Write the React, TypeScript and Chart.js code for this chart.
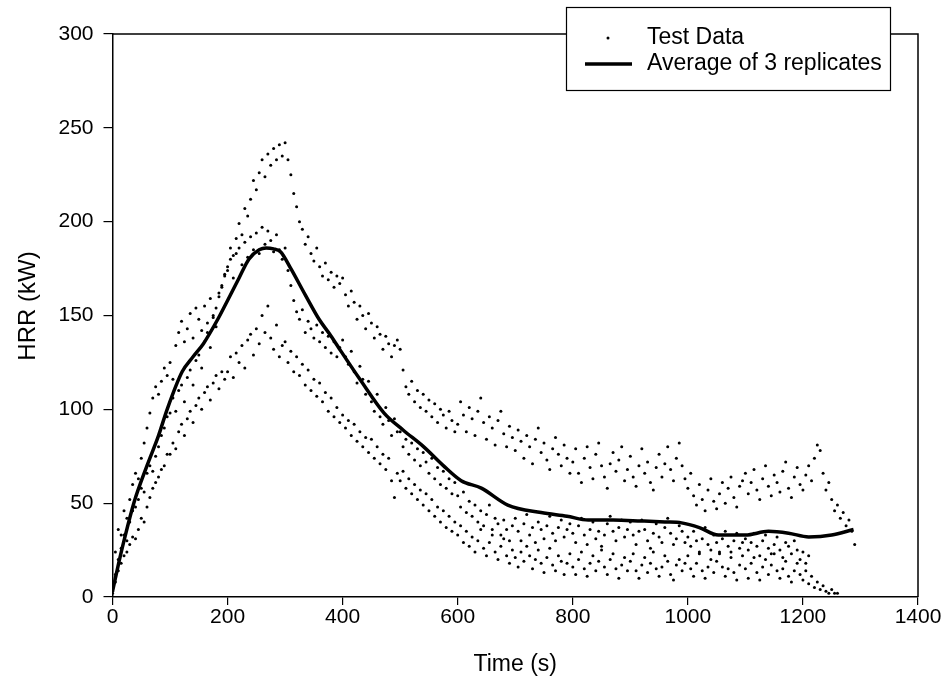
import React, { useEffect, useRef } from "react";
import { Chart, registerables } from "chart.js";

Chart.register(...registerables);

// ---- data ----
const SAMPLE_INTERVAL_S = 5; // seconds between recorded HRR samples

// Replicate 1 (t = 0 .. 1290 s)
const REP_A: number[] = [
  4, 24, 36, 33, 46, 42, 52, 60, 66, 63, 74, 82, 90, 98, 106, 112, 108, 115, 122, 118,
  125, 116, 134, 141, 147, 136, 143, 151, 138, 154, 148, 142, 155, 146, 159, 150, 144, 160, 166, 172,
  176, 186, 182, 191, 199, 193, 207, 203, 212, 222, 217, 226, 233, 224, 236, 230, 239, 233, 241, 235,
  242, 233, 225, 215, 208, 200, 196, 188, 192, 183, 179, 186, 176, 171, 178, 169, 173, 165, 171, 167,
  170, 161, 155, 163, 157, 148, 155, 150, 143, 151, 146, 138, 144, 140, 132, 139, 135, 128, 134, 137,
  132, 121, 112, 108, 115, 104, 110, 101, 108, 99, 105, 96, 103, 93, 100, 97, 90, 99, 94, 88,
  92, 104, 97, 88, 101, 95, 86, 99, 106, 93, 84, 96, 90, 81, 94, 99, 87, 80, 91, 85,
  78, 89, 83, 74, 86, 80, 71, 84, 90, 77, 82, 73, 68, 79, 85, 76, 70, 81, 74, 66,
  72, 79, 66, 61, 74, 80, 69, 63, 76, 82, 70, 64, 58, 71, 77, 67, 73, 80, 62, 68,
  75, 64, 59, 70, 79, 66, 72, 61, 57, 69, 76, 64, 71, 80, 68, 62, 74, 82, 70, 63,
  58, 66, 54, 49, 60, 52, 46, 57, 63, 51, 47, 55, 61, 50, 58, 64, 53, 48, 59, 62,
  66, 55, 61, 68, 57, 52, 63, 70, 59, 54, 65, 61, 56, 67, 72, 58, 53, 64, 69, 60,
  57, 65, 70, 62, 74, 81, 78, 66, 57, 61, 52, 46, 49, 42, 45, 38, 41, 35, 28,
];

// Replicate 2 (t = 0 .. 1210 s)
const REP_B: number[] = [
  3, 12, 20, 26, 33, 30, 40, 46, 48, 52, 58, 56, 66, 70, 67, 75, 80, 86, 90, 96,
  98, 106, 99, 110, 113, 104, 117, 121, 113, 126, 129, 122, 136, 141, 133, 149, 154, 162, 165, 171,
  174, 180, 170, 183, 186, 177, 189, 181, 192, 185, 194, 183, 197, 188, 195, 190, 184, 193, 185, 180,
  186, 174, 166, 158, 152, 148, 153, 141, 147, 143, 138, 145, 136, 141, 133, 139, 130, 136, 128, 133,
  137, 128, 124, 131, 120, 114, 123, 116, 108, 115, 104, 99, 108, 96, 92, 101, 94, 86, 95, 88,
  88, 80, 84, 76, 82, 73, 79, 70, 77, 72, 66, 74, 63, 69, 60, 67, 58, 63, 55, 61,
  54, 48, 56, 45, 51, 43, 49, 40, 46, 38, 44, 49, 36, 42, 39, 33, 41, 36, 30, 38,
  42, 35, 30, 39, 44, 33, 37, 29, 40, 36, 31, 38, 43, 34, 30, 37, 41, 32, 36, 39,
  34, 29, 38, 42, 33, 28, 36, 40, 31, 35, 27, 33, 39, 43, 35, 30, 37, 41, 32, 36,
  40, 33, 28, 35, 41, 36, 30, 26, 34, 39, 32, 29, 37, 42, 34, 28, 31, 38, 35, 29,
  32, 27, 35, 30, 24, 31, 37, 28, 25, 33, 29, 23, 31, 35, 27, 24, 30, 34, 26, 29,
  31, 25, 29, 34, 27, 22, 30, 33, 26, 23, 28, 32, 25, 21, 29, 27, 23, 30, 25, 20,
  24, 18, 22,
];

// Replicate 3 (t = 0 .. 1260 s)
const REP_C: number[] = [
  2, 8, 14, 18, 22, 24, 28, 32, 31, 36, 42, 40, 48, 53, 58, 61, 64, 68, 70, 76,
  76, 82, 79, 88, 92, 86, 95, 99, 93, 102, 106, 100, 109, 112, 105, 114, 118, 111, 120, 116,
  120, 128, 117, 130, 125, 134, 122, 137, 140, 129, 143, 135, 150, 141, 155, 138, 132, 145, 128, 134,
  136, 125, 131, 120, 128, 118, 124, 113, 121, 110, 116, 107, 114, 104, 109, 99, 106, 96, 101, 93,
  97, 90, 94, 86, 92, 83, 88, 80, 85, 77, 84, 74, 80, 71, 76, 68, 74, 62, 53, 66,
  62, 67, 58, 63, 55, 60, 52, 57, 49, 55, 46, 52, 43, 48, 40, 46, 37, 43, 35, 40,
  33, 38, 29, 35, 27, 32, 24, 30, 36, 26, 22, 29, 33, 24, 20, 27, 31, 22, 18, 25,
  21, 16, 24, 19, 27, 22, 15, 20, 25, 18, 13, 21, 26, 17, 14, 22, 19, 12, 18, 23,
  16, 12, 20, 24, 15, 11, 18, 22, 14, 19, 25, 16, 12, 20, 23, 15, 10, 17, 21, 14,
  19, 23, 14, 10, 17, 21, 13, 18, 24, 15, 11, 16, 22, 19, 12, 9, 17, 20, 14, 18,
  22, 15, 11, 18, 23, 14, 10, 16, 20, 13, 19, 24, 16, 11, 15, 21, 13, 9, 17, 22,
  15, 10, 18, 21, 13, 9, 16, 20, 12, 17, 23, 14, 10, 15, 19, 11, 8, 14, 18, 12,
  9, 14, 7, 11, 5, 8, 4, 6, 3, 2, 4, 2, 2,
];

// Average of 3 replicates
const AVG_T: number[] = [
  0, 10, 20, 37, 60, 80, 95, 121, 140, 158, 183, 200, 220, 237, 255, 267, 280, 292, 310, 335,
  359, 380, 397, 430, 472, 505, 541, 575, 606, 641, 687, 745, 790, 827, 870, 919, 960, 989, 1020, 1053,
  1100, 1140, 1175, 1210, 1250, 1288,
];
const AVG_V: number[] = [
  3, 17, 30, 50, 70, 86, 100, 120, 128, 135, 148, 158, 170, 180, 185, 186, 185.5, 184, 175, 161,
  148, 139, 131, 116, 98, 89, 80, 70, 62, 58, 49, 45, 43, 41, 41, 40.5, 40, 39.5, 37, 33,
  33, 35, 34, 32, 33, 36,
];

const X_MIN = 0;
const X_MAX = 1400;
const X_STEP = 200;
const Y_MIN = 0;
const Y_MAX = 300;
const Y_STEP = 50;

const X_TITLE = "Time (s)";
const Y_TITLE = "HRR (kW)";
const LEGEND_LABELS = ["Test Data", "Average of 3 replicates"];

const FONT = "Arial, 'Liberation Sans', sans-serif";

const toPoints = (vals: number[]) =>
  vals.map((v, i) => ({ x: i * SAMPLE_INTERVAL_S, y: v }));

const decorPlugin = {
  id: "decor",
  afterDraw(chart: any) {
    const { ctx, chartArea: ca } = chart;
    ctx.save();
    // top and right frame
    ctx.strokeStyle = "#000";
    ctx.lineWidth = 1.5;
    ctx.beginPath();
    ctx.moveTo(ca.left, ca.top);
    ctx.lineTo(ca.right, ca.top);
    ctx.lineTo(ca.right, ca.bottom);
    ctx.stroke();

    // axis titles
    ctx.fillStyle = "#000";
    ctx.textAlign = "center";
    ctx.textBaseline = "middle";
    ctx.font = `23px ${FONT}`;
    ctx.fillText(X_TITLE, (ca.left + ca.right) / 2, 665);
    ctx.save();
    ctx.translate(28, 306);
    ctx.rotate(-Math.PI / 2);
    ctx.font = `24px ${FONT}`;
    ctx.fillText(Y_TITLE, 0, 0);
    ctx.restore();

    // legend box
    const bx = 566.5, by = 7.5, bw = 324, bh = 83;
    ctx.fillStyle = "#fff";
    ctx.fillRect(bx, by, bw, bh);
    ctx.strokeStyle = "#000";
    ctx.lineWidth = 1.2;
    ctx.strokeRect(bx, by, bw, bh);

    ctx.fillStyle = "#000";
    ctx.beginPath();
    ctx.arc(608, 38, 1.5, 0, Math.PI * 2);
    ctx.fill();

    ctx.lineWidth = 3.5;
    ctx.beginPath();
    ctx.moveTo(585, 64);
    ctx.lineTo(632, 64);
    ctx.stroke();

    ctx.font = `23px ${FONT}`;
    ctx.textAlign = "left";
    ctx.textBaseline = "middle";
    ctx.fillText(LEGEND_LABELS[0], 647, 38);
    ctx.fillText(LEGEND_LABELS[1], 647, 64);
    ctx.restore();
  },
};

export default function App() {
  const ref = useRef<HTMLCanvasElement | null>(null);

  useEffect(() => {
    if (!ref.current) return;
    const scatterStyle = {
      type: "scatter" as const,
      showLine: false,
      pointRadius: 1.5,
      pointHoverRadius: 1.5,
      pointBackgroundColor: "#000",
      pointBorderWidth: 0,
      borderColor: "#000",
      backgroundColor: "#000",
      order: 2,
    };
    const chart = new Chart(ref.current, {
      type: "scatter",
      data: {
        datasets: [
          {
            type: "line",
            label: LEGEND_LABELS[1],
            data: AVG_T.map((t, i) => ({ x: t, y: AVG_V[i] })),
            borderColor: "#000",
            borderWidth: 3.5,
            pointRadius: 0,
            fill: false,
            cubicInterpolationMode: "monotone",
            order: 1,
          } as any,
          { ...scatterStyle, label: LEGEND_LABELS[0], data: toPoints(REP_A) },
          { ...scatterStyle, label: LEGEND_LABELS[0], data: toPoints(REP_B) },
          { ...scatterStyle, label: LEGEND_LABELS[0], data: toPoints(REP_C) },
        ],
      },
      options: {
        responsive: false,
        animation: false,
        events: [],
        layout: { padding: { top: 34, right: 27, left: 0, bottom: 0 } },
        plugins: {
          legend: { display: false },
          tooltip: { enabled: false },
          title: { display: false },
        },
        scales: {
          x: {
            type: "linear",
            min: X_MIN,
            max: X_MAX,
            ticks: {
              stepSize: X_STEP,
              color: "#000",
              font: { family: FONT, size: 21 },
              padding: 0,
              maxRotation: 0,
              callback: (v: any) => String(v),
            },
            grid: {
              drawOnChartArea: false,
              drawTicks: true,
              tickLength: 8,
              color: "#000",
              lineWidth: 1.2,
            },
            border: { display: true, color: "#000", width: 1.5 },
            afterFit: (scale: any) => {
              scale.height = 94;
            },
          },
          y: {
            type: "linear",
            min: Y_MIN,
            max: Y_MAX,
            ticks: {
              stepSize: Y_STEP,
              color: "#000",
              font: { family: FONT, size: 21 },
              padding: 10,
              callback: (v: any) => String(v),
            },
            grid: {
              drawOnChartArea: false,
              drawTicks: true,
              tickLength: 9,
              color: "#000",
              lineWidth: 1.2,
            },
            border: { display: true, color: "#000", width: 1.5 },
            afterFit: (scale: any) => {
              scale.width = 112.5;
            },
          },
        },
      },
      plugins: [decorPlugin],
    });
    return () => chart.destroy();
  }, []);

  return (
    <div style={{ position: "absolute", left: 0, top: 0, width: 945, height: 691, background: "#fff" }}>
      <canvas ref={ref} width={945} height={691} style={{ display: "block" }} />
    </div>
  );
}
